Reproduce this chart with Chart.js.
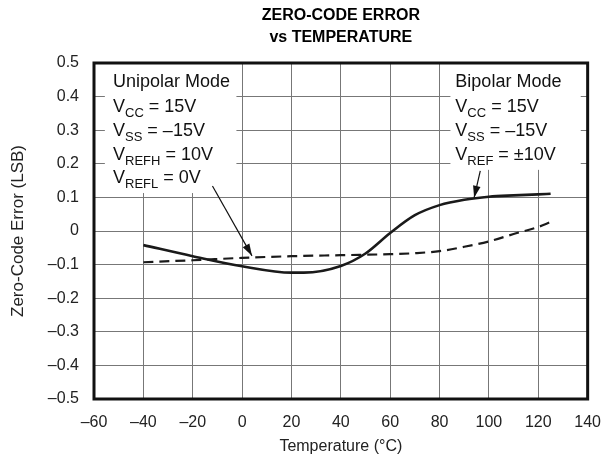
<!DOCTYPE html>
<html>
<head>
<meta charset="utf-8">
<script src="https://cdn.jsdelivr.net/npm/chart.js@4/dist/chart.umd.min.js"></script>
<style>
  html, body { margin: 0; padding: 0; background: #fff; }
  #wrap { width: 615px; height: 464px; }
</style>
</head>
<body>
<div id="wrap"><canvas id="chart" width="615" height="464"></canvas></div>
<script>
// temperatures (°C) and zero-code error (LSB)
const bipolarTemps = [-40, -20, 0, 20, 25, 40, 50, 60, 70, 80, 90, 100, 110, 120, 125];
const bipolarError = [-0.042, -0.075, -0.105, -0.124, -0.124, -0.104, -0.067, -0.006, 0.047, 0.077, 0.093, 0.102, 0.106, 0.109, 0.111];

const unipolarTemps = [-40, -20, 0, 20, 40, 60, 70, 80, 90, 100, 110, 120, 125];
const unipolarError = [-0.093, -0.087, -0.080, -0.075, -0.072, -0.069, -0.066, -0.060, -0.047, -0.031, -0.009, 0.012, 0.027];

const xTickValues = [-60, -40, -20, 0, 20, 40, 60, 80, 100, 120, 140];
const yTickValues = [-0.5, -0.4, -0.3, -0.2, -0.1, 0, 0.1, 0.2, 0.3, 0.4, 0.5];

const titleLines = ['ZERO-CODE ERROR', 'vs TEMPERATURE'];

// annotation text: [text, isSubscript]
const unipolarNote = [
    [['Unipolar Mode', false]],
    [['V', false], ['CC', true], [' = 15V', false]],
    [['V', false], ['SS', true], [' = \u201315V', false]],
    [['V', false], ['REFH', true], [' = 10V', false]],
    [['V', false], ['REFL', true], [' = 0V', false]]
];
const bipolarNote = [
    [['Bipolar Mode', false]],
    [['V', false], ['CC', true], [' = 15V', false]],
    [['V', false], ['SS', true], [' = \u201315V', false]],
    [['V', false], ['REF', true], [' = \u00b110V', false]]
];

const FONT = '"Liberation Sans", Arial, Helvetica, sans-serif';

function fmtTick(v) {
    let s = (Math.abs(v) < 1e-9) ? '0' : (Number.isInteger(v) ? String(v) : v.toFixed(1));
    return s.replace('-', '\u2013');
}

function toPoints(xs, ys) {
    return xs.map((x, i) => ({ x: x, y: ys[i] }));
}

function drawNote(ctx, xs, ys, left, baselines, lines) {
    lines.forEach((parts, i) => {
        let x = xs.getPixelForValue(left);
        const y = ys.getPixelForValue(baselines[i]);
        parts.forEach(([txt, sub]) => {
            ctx.font = (sub ? '13px ' : '18px ') + FONT;
            ctx.fillText(txt, x, sub ? y + 5 : y);
            x += ctx.measureText(txt).width;
        });
    });
}

function drawArrow(ctx, x1, y1, x2, y2) {
    ctx.beginPath();
    ctx.moveTo(x1, y1);
    ctx.lineTo(x2, y2);
    ctx.lineWidth = 1.2;
    ctx.strokeStyle = '#111';
    ctx.stroke();
    const ang = Math.atan2(y2 - y1, x2 - x1);
    const len = 12, half = 3.8;
    ctx.beginPath();
    ctx.moveTo(x2, y2);
    ctx.lineTo(x2 - len * Math.cos(ang) + half * Math.sin(ang), y2 - len * Math.sin(ang) - half * Math.cos(ang));
    ctx.lineTo(x2 - len * Math.cos(ang) - half * Math.sin(ang), y2 - len * Math.sin(ang) + half * Math.cos(ang));
    ctx.closePath();
    ctx.fillStyle = '#111';
    ctx.fill();
}

const notesPlugin = {
    id: 'notes',
    beforeDatasetsDraw(chart) {
        const ctx = chart.ctx, xs = chart.scales.x, ys = chart.scales.y;
        ctx.save();
        ctx.fillStyle = '#fff';
        // white boxes behind the notes, hiding the grid
        let l = xs.getPixelForValue(-55.6), r = xs.getPixelForValue(-2.3);
        let t = ys.getPixelForValue(0.5), b = ys.getPixelForValue(0.113);
        ctx.fillRect(l, t, r - l, b - t);
        l = xs.getPixelForValue(84.4); r = xs.getPixelForValue(137.2);
        b = ys.getPixelForValue(0.182);
        ctx.fillRect(l, t, r - l, b - t);
        ctx.restore();
    },
    afterDatasetsDraw(chart) {
        const ctx = chart.ctx, xs = chart.scales.x, ys = chart.scales.y;
        ctx.save();
        ctx.fillStyle = '#111';
        ctx.textBaseline = 'alphabetic';
        ctx.textAlign = 'left';
        drawNote(ctx, xs, ys, -52.3, [0.43, 0.355, 0.284, 0.212, 0.143], unipolarNote);
        drawNote(ctx, xs, ys, 86.4, [0.43, 0.355, 0.284, 0.212], bipolarNote);
        drawArrow(ctx, xs.getPixelForValue(-12), ys.getPixelForValue(0.134),
                  xs.getPixelForValue(4), ys.getPixelForValue(-0.074));
        drawArrow(ctx, xs.getPixelForValue(96.5), ys.getPixelForValue(0.179),
                  xs.getPixelForValue(94), ys.getPixelForValue(0.099));
        ctx.restore();
    },
    afterDraw(chart) {
        const a = chart.chartArea, ctx = chart.ctx;
        ctx.save();
        ctx.lineWidth = 3;
        ctx.strokeStyle = '#111';
        ctx.strokeRect(a.left, a.top, a.right - a.left, a.bottom - a.top);
        // title, centred over the plot area
        ctx.fillStyle = '#000';
        ctx.font = 'bold 16px ' + FONT;
        ctx.textAlign = 'center';
        ctx.textBaseline = 'alphabetic';
        const cx = (a.left + a.right) / 2;
        ctx.fillText(titleLines[0], cx, 20);
        ctx.fillText(titleLines[1], cx, 42);
        ctx.restore();
    }
};

new Chart(document.getElementById('chart'), {
    type: 'line',
    data: {
        datasets: [{
            label: 'Bipolar',
            data: toPoints(bipolarTemps, bipolarError),
            borderColor: '#1a1a1a',
            borderWidth: 2.6,
            pointRadius: 0,
            cubicInterpolationMode: 'monotone',
            fill: false
        }, {
            label: 'Unipolar',
            data: toPoints(unipolarTemps, unipolarError),
            borderColor: '#1a1a1a',
            borderWidth: 2.2,
            borderDash: [10, 6],
            pointRadius: 0,
            cubicInterpolationMode: 'monotone',
            fill: false
        }]
    },
    options: {
        responsive: false,
        animation: false,
        layout: { padding: { left: 0, right: 25, top: 63, bottom: 0 } },
        plugins: {
            legend: { display: false },
            tooltip: { enabled: false },
            title: { display: false }
        },
        scales: {
            x: {
                type: 'linear',
                min: -60,
                max: 140,
                afterBuildTicks: s => { s.ticks = xTickValues.map(v => ({ value: v })); },
                afterFit: s => { s.height = 65; },
                grid: { color: '#777', lineWidth: 1, drawTicks: false },
                border: { display: false },
                ticks: {
                    color: '#222',
                    padding: 14,
                    maxRotation: 0,
                    font: { family: FONT, size: 16 },
                    callback: v => fmtTick(v)
                },
                title: {
                    display: true,
                    text: 'Temperature (\u00b0C)',
                    color: '#222',
                    font: { family: FONT, size: 16 },
                    padding: { top: 0, bottom: 8 }
                }
            },
            y: {
                min: -0.5,
                max: 0.5,
                afterBuildTicks: s => { s.ticks = yTickValues.map(v => ({ value: v })); },
                afterFit: s => { s.width = 94; },
                grid: { color: '#777', lineWidth: 1, drawTicks: false },
                border: { display: false },
                ticks: {
                    color: '#222',
                    padding: 15,
                    font: { family: FONT, size: 16 },
                    callback: v => fmtTick(v)
                },
                title: {
                    display: true,
                    text: 'Zero-Code Error (LSB)',
                    color: '#222',
                    font: { family: FONT, size: 17 },
                    padding: { top: 8, bottom: 0 }
                }
            }
        }
    },
    plugins: [notesPlugin]
});
</script>
</body>
</html>
